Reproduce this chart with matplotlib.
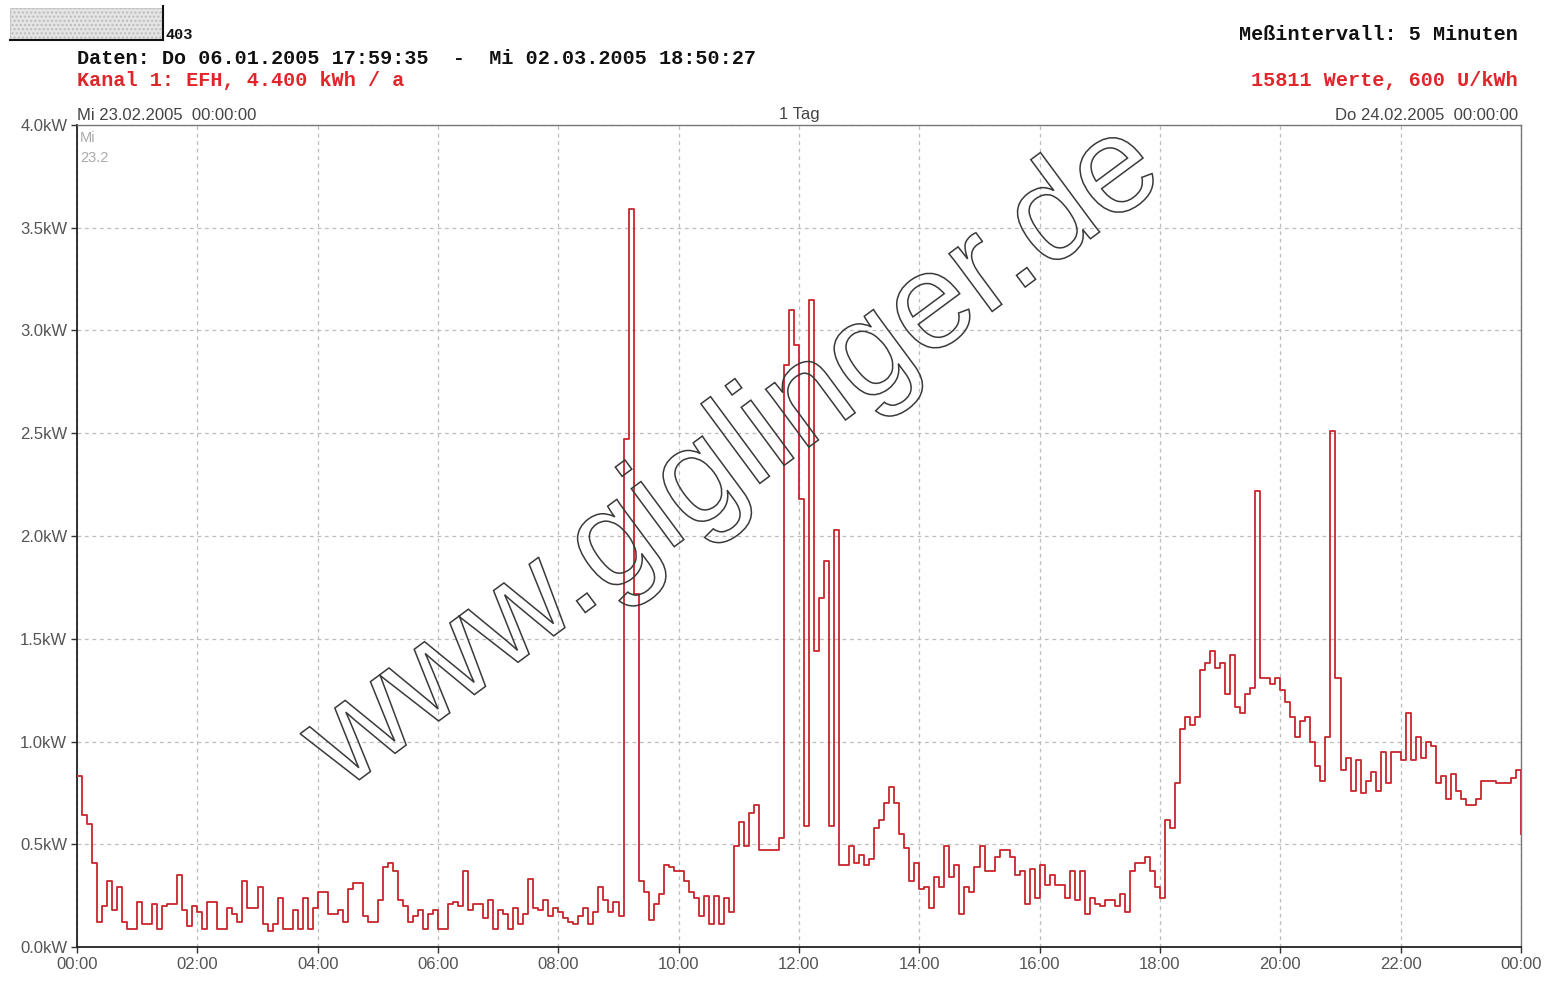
import numpy as np
import matplotlib
matplotlib.use("Agg")
import matplotlib.pyplot as plt
from matplotlib.textpath import TextPath
from matplotlib.patches import PathPatch, Rectangle
from matplotlib.font_manager import FontProperties
import matplotlib.transforms as mtrans
from matplotlib.lines import Line2D

# ---------------- data (kW, 5-minute steps) ----------------
kw_00_06 = [0.83, 0.64, 0.60, 0.41, 0.12, 0.20, 0.32, 0.18, 0.29, 0.12, 0.09, 0.09,
            0.22, 0.11, 0.11, 0.21, 0.09, 0.20, 0.21, 0.21, 0.35, 0.18, 0.10, 0.20,
            0.17, 0.09, 0.22, 0.22, 0.09, 0.09, 0.19, 0.16, 0.12, 0.32, 0.19, 0.19,
            0.29, 0.11, 0.08, 0.11, 0.24, 0.09, 0.09, 0.18, 0.09, 0.24, 0.09, 0.19,
            0.27, 0.27, 0.16, 0.16, 0.18, 0.12, 0.28, 0.31, 0.31, 0.15, 0.12, 0.12,
            0.23, 0.39, 0.41, 0.37, 0.23, 0.20, 0.12, 0.15, 0.18, 0.09, 0.16, 0.18]
kw_06_12 = [0.09, 0.09, 0.21, 0.22, 0.20, 0.37, 0.18, 0.21, 0.21, 0.14, 0.23, 0.09,
            0.18, 0.16, 0.09, 0.19, 0.11, 0.16, 0.33, 0.19, 0.18, 0.23, 0.15, 0.19,
            0.17, 0.14, 0.12, 0.11, 0.15, 0.19, 0.11, 0.17, 0.29, 0.23, 0.17, 0.22,
            0.15, 2.47, 3.59, 1.72, 0.32, 0.27, 0.13, 0.21, 0.26, 0.40, 0.39, 0.37,
            0.37, 0.32, 0.27, 0.24, 0.15, 0.25, 0.11, 0.25, 0.11, 0.24, 0.17, 0.49,
            0.61, 0.49, 0.65, 0.69, 0.47, 0.47, 0.47, 0.47, 0.53, 2.83, 3.10, 2.93]
kw_12_18 = [2.18, 0.59, 3.15, 1.44, 1.70, 1.88, 0.59, 2.03, 0.40, 0.40, 0.49, 0.41,
            0.45, 0.40, 0.43, 0.58, 0.62, 0.70, 0.78, 0.70, 0.55, 0.48, 0.32, 0.41,
            0.28, 0.29, 0.19, 0.34, 0.29, 0.49, 0.34, 0.40, 0.16, 0.29, 0.27, 0.39,
            0.49, 0.37, 0.37, 0.44, 0.47, 0.47, 0.44, 0.35, 0.37, 0.21, 0.38, 0.24,
            0.40, 0.30, 0.35, 0.30, 0.30, 0.24, 0.37, 0.23, 0.37, 0.16, 0.24, 0.21,
            0.20, 0.23, 0.23, 0.20, 0.26, 0.17, 0.37, 0.41, 0.41, 0.44, 0.37, 0.29]
kw_18_24 = [0.24, 0.62, 0.58, 0.80, 1.06, 1.12, 1.08, 1.12, 1.35, 1.38, 1.44, 1.36,
            1.38, 1.23, 1.42, 1.17, 1.14, 1.23, 1.26, 2.22, 1.31, 1.31, 1.28, 1.31,
            1.25, 1.19, 1.12, 1.02, 1.10, 1.12, 1.00, 0.88, 0.81, 1.02, 2.51, 1.31,
            0.86, 0.92, 0.76, 0.91, 0.75, 0.81, 0.85, 0.76, 0.95, 0.80, 0.95, 0.95,
            0.91, 1.14, 0.91, 1.02, 0.92, 1.00, 0.98, 0.80, 0.83, 0.72, 0.84, 0.76,
            0.72, 0.69, 0.69, 0.72, 0.81, 0.81, 0.81, 0.80, 0.80, 0.80, 0.82, 0.86]
kw_end = [0.55]

x_ticks_h = [0, 2, 4, 6, 8, 10, 12, 14, 16, 18, 20, 22, 24]
x_tick_labels = ["00:00", "02:00", "04:00", "06:00", "08:00", "10:00", "12:00",
                 "14:00", "16:00", "18:00", "20:00", "22:00", "00:00"]
y_ticks = [0.0, 0.5, 1.0, 1.5, 2.0, 2.5, 3.0, 3.5, 4.0]
y_tick_labels = ["0.0kW", "0.5kW", "1.0kW", "1.5kW", "2.0kW", "2.5kW", "3.0kW", "3.5kW", "4.0kW"]

values = np.array(kw_00_06 + kw_06_12 + kw_12_18 + kw_18_24 + kw_end)
hours = np.arange(len(values)) / 12.0

# ---------------- figure ----------------
W, H = 1546, 988
fig = plt.figure(figsize=(W / 100, H / 100), dpi=100)
fig.patch.set_facecolor("white")

ax = fig.add_axes([77 / W, 1 - 947 / H, (1521 - 77) / W, (947 - 125) / H])
ax.step(hours, values, where="post", color="#c8262c", lw=1.3, zorder=3)
ax.set_xlim(0, 24)
ax.set_ylim(0, 4.0)
ax.set_xticks(x_ticks_h)
ax.set_xticklabels(x_tick_labels)
ax.set_yticks(y_ticks)
ax.set_yticklabels(y_tick_labels)
ax.tick_params(axis="both", labelsize=12, labelcolor="#555555", color="#333333",
               length=4, width=1)
ax.tick_params(axis="y", pad=3)
ax.tick_params(axis="x", pad=3)
for lab in ax.get_xticklabels() + ax.get_yticklabels():
    lab.set_family("Liberation Sans")
ax.grid(True, color="#bdbdbd", linestyle=(0, (3, 3)), lw=0.9)
ax.set_axisbelow(True)
for s in ["left", "bottom"]:
    ax.spines[s].set_color("#222222")
    ax.spines[s].set_linewidth(1.3)
for s in ["top", "right"]:
    ax.spines[s].set_color("#777777")
    ax.spines[s].set_linewidth(1.0)

ax.text(0.002, 0.993, "Mi", transform=ax.transAxes, ha="left", va="top",
        fontsize=10.5, color="#aaaaaa", family="Liberation Sans")
ax.text(0.002, 0.968, "23.2", transform=ax.transAxes, ha="left", va="top",
        fontsize=10.5, color="#aaaaaa", family="Liberation Sans")

def ftxt(x, y, s, **kw):
    fig.text(x / W, 1 - y / H, s, **kw)

mono = dict(family="Liberation Mono", weight="bold", fontsize=14.5)
ftxt(77, 59, "Daten: Do 06.01.2005 17:59:35  -  Mi 02.03.2005 18:50:27",
     ha="left", va="center", color="#111111", **mono)
ftxt(77, 81, "Kanal 1: EFH, 4.400 kWh / a", ha="left", va="center",
     color="#e0262b", **mono)
ftxt(1518, 35, "Meßintervall: 5 Minuten", ha="right", va="center",
     color="#111111", **mono)
ftxt(1518, 81, "15811 Werte, 600 U/kWh", ha="right", va="center",
     color="#e0262b", **mono)
ftxt(165, 35, "403", ha="left", va="center", color="#111111",
     family="Liberation Mono", weight="bold", fontsize=11)

small = dict(family="Liberation Sans", fontsize=12, color="#444444")
ftxt(77, 115, "Mi 23.02.2005  00:00:00", ha="left", va="center", **small)
ftxt(799, 115, "1 Tag", ha="center", va="center", **small)
ftxt(1518, 115, "Do 24.02.2005  00:00:00", ha="right", va="center", **small)

# top-left bar
fig.add_artist(Rectangle((10 / W, 1 - 40 / H), 153 / W, 32 / H, transform=fig.transFigure,
                         facecolor="#e4e4e4", edgecolor="#bbbbbb", hatch="....", lw=0.5))
fig.add_artist(Line2D([10 / W, 163 / W], [1 - 40 / H, 1 - 40 / H], transform=fig.transFigure,
                      color="#111111", lw=1.5))
fig.add_artist(Line2D([163 / W, 163 / W], [1 - 40 / H, 1 - 6 / H], transform=fig.transFigure,
                      color="#111111", lw=1.5))

# watermark outline text
fp = FontProperties(family="Liberation Sans")
tp = TextPath((0, 0), "www.giglinger.de", size=100, prop=fp)
bb = tp.get_extents()
scale = 1020 / bb.width
tr = (mtrans.Affine2D()
      .translate(-(bb.x0 + bb.width / 2), -(bb.y0 + bb.height / 2))
      .scale(scale)
      .rotate_deg(36.5)
      .translate(732, H - 460))
patch = PathPatch(tp, transform=tr + mtrans.IdentityTransform(),
                  facecolor="none", edgecolor="#3a3a3a", lw=1.1, zorder=10)
fig.add_artist(patch)

fig.savefig("out.png", dpi=100, facecolor="white")
